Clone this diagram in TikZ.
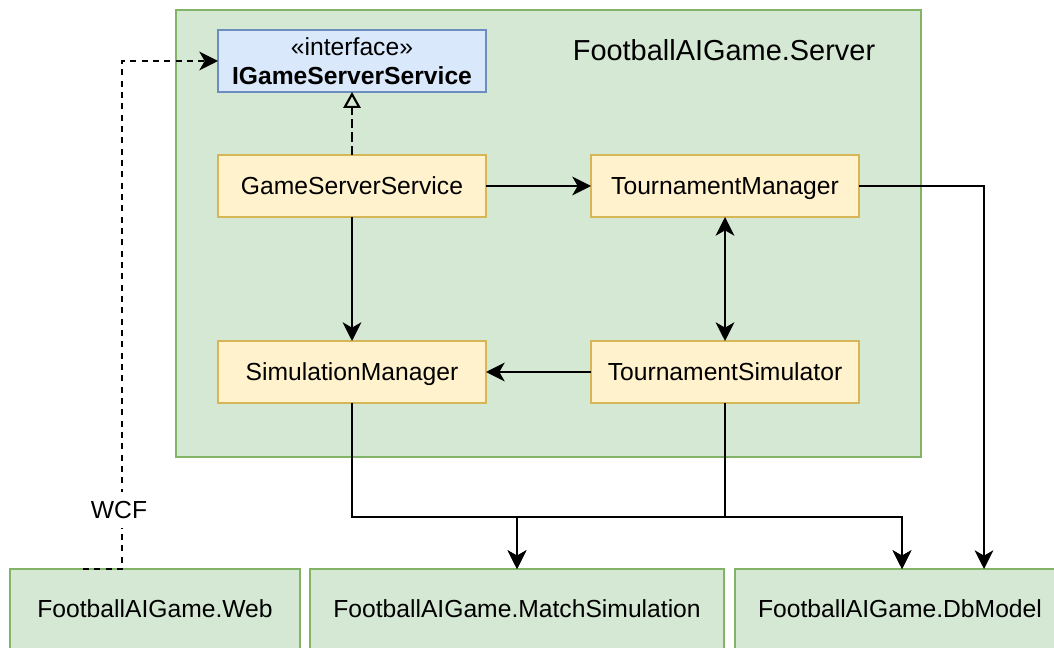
\documentclass[tikz,border=0pt]{standalone}
\usepackage{fontspec}
\setmainfont{Liberation Sans}
\usetikzlibrary{arrows.meta}
\definecolor{pkgfill}{HTML}{D5E8D4}
\definecolor{pkgline}{HTML}{82B366}
\definecolor{clsfill}{HTML}{FFF2CC}
\definecolor{clsline}{HTML}{D6B656}
\definecolor{ifcfill}{HTML}{DAE8FC}
\definecolor{ifcline}{HTML}{6C8EBF}
\begin{document}
\begin{tikzpicture}[x=0.75pt,y=-0.75pt,
  every node/.style={font=\fontsize{18.5}{22}\selectfont, inner sep=0pt, outer sep=0pt},
  onetext/.style={text height=17pt, text depth=3.5pt},
  pkg/.style={draw=pkgline, fill=pkgfill, line width=1.5pt, minimum height=60pt, onetext},
  cls/.style={draw=clsline, fill=clsfill, line width=1.5pt, minimum width=201pt, minimum height=46.5pt, onetext},
  ifc/.style={draw=ifcline, fill=ifcfill, line width=1.5pt, minimum width=201pt, minimum height=46.5pt, align=center},
  conn/.style={line width=1.6pt, -{Stealth[length=14pt,width=14pt,inset=4pt]}},
  biconn/.style={line width=1.6pt, {Stealth[length=14pt,width=14pt,inset=4pt]}-{Stealth[length=14pt,width=14pt,inset=4pt]}},
  dep/.style={conn, dash pattern=on 4.5pt off 4pt},
  realize/.style={line width=1.6pt, dash pattern=on 7pt off 3pt, -{Triangle[open,length=12pt,width=13pt]}},
  lbl/.style={fill=white, inner sep=3pt, onetext}
]
\clip (0,0) rectangle (1054,648);
\fill[white] (0,0) rectangle (1054,648);

% server package
\node[pkg, minimum width=558.75pt, minimum height=335.25pt] (server) at (548.5,233.5) {};
\node[font=\fontsize{21.7}{26}\selectfont] (servertitle) at (724,50) {FootballAIGame.Server};

% classes inside the server
\node[ifc] (iface) at (352,61) {«interface»\\\textbf{IGameServerService}};
\node[cls] (gss) at (352,186) {GameServerService};
\node[cls] (tm) at (725,186) {TournamentManager};
\node[cls] (sm) at (352,372) {SimulationManager};
\node[cls] (ts) at (725,372) {TournamentSimulator};

% external packages
\node[pkg, minimum width=217.5pt] (web) at (155,609) {FootballAIGame.Web};
\node[pkg, minimum width=310.5pt] (match) at (517,609) {FootballAIGame.MatchSimulation};
\node[pkg, minimum width=247.5pt] (db) at (900,609) {FootballAIGame.DbModel};

% connector helpers
\coordinate (bus) at (0,517);
\coordinate (dbinA) at (902,569);
\coordinate (dbinB) at (984,569);
\coordinate (wcfstart) at (83,569);
\coordinate (wcfbend) at (122,569);

% relations
\draw[realize] (gss.north) -- (iface.south);
\draw[conn] (gss.east) -- (tm.west);
\draw[conn] (gss.south) -- (sm.north);
\draw[biconn] (tm.south) -- (ts.north);
\draw[conn] (ts.west) -- (sm.east);
\draw[conn] (tm.east) -| (dbinB);
\draw[conn] (sm.south) |- (bus -| match.north) -- (match.north);
\draw[conn] (sm.south) |- (bus -| dbinA) -- (dbinA);
\draw[conn] (ts.south) |- (bus -| match.north) -- (match.north);
\draw[conn] (ts.south) |- (bus -| dbinA) -- (dbinA);

% WCF link
\draw[dep] (wcfstart) -- (wcfbend) |- (iface.west);
\node[lbl] (wcf) at (119,510) {WCF};
\end{tikzpicture}
\end{document}
